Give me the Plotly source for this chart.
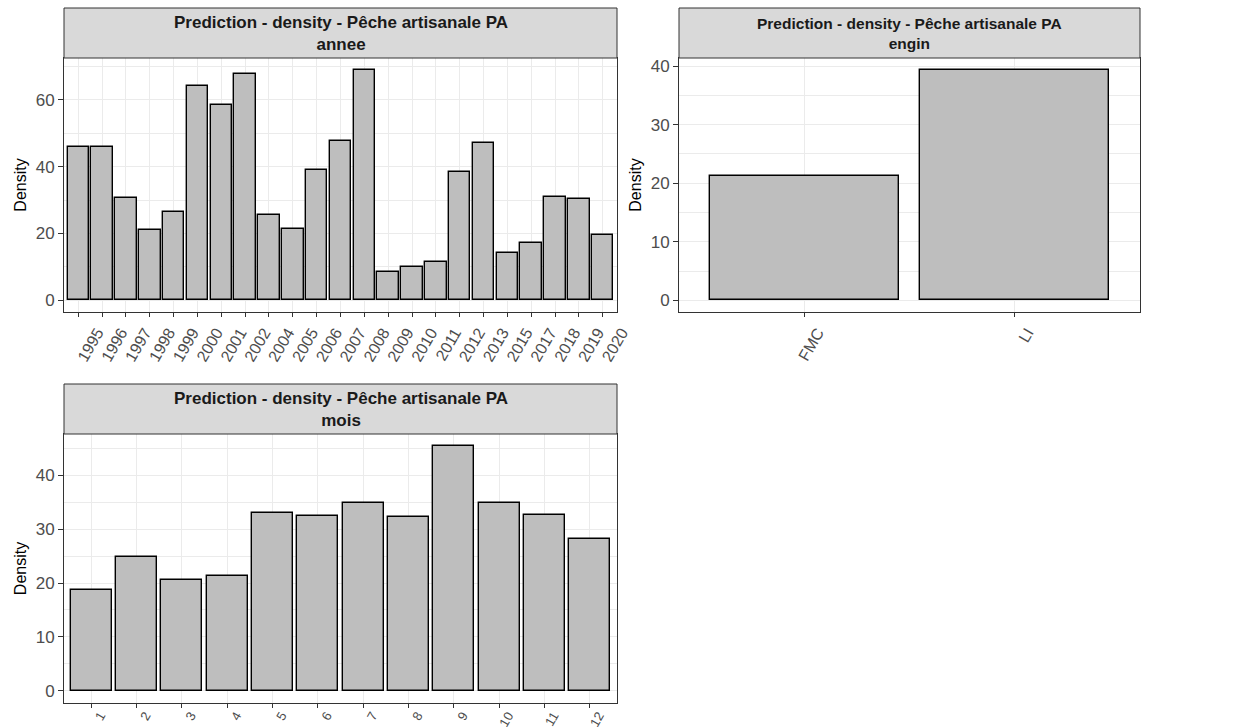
import plotly.graph_objects as go

# --- data ---
annee = ["1995", "1996", "1997", "1998", "1999", "2000", "2001", "2002", "2004", "2005",
         "2006", "2007", "2008", "2009", "2010", "2011", "2012", "2013", "2015", "2017",
         "2018", "2019", "2020"]
annee_density = [46.0, 46.0, 30.7, 21.2, 26.4, 64.2, 58.5, 67.7, 25.5, 21.5,
                 38.9, 47.7, 69.0, 8.5, 9.9, 11.5, 38.5, 47.2, 14.2, 17.2,
                 31.0, 30.3, 19.7]

engin = ["FMC", "LI"]
engin_density = [21.3, 39.4]

mois = ["1", "2", "3", "4", "5", "6", "7", "8", "9", "10", "11", "12"]
mois_density = [18.7, 24.9, 20.5, 21.3, 33.0, 32.5, 34.8, 32.2, 45.4, 34.8, 32.7, 28.1]

strip_title = "Prediction - density - Pêche artisanale PA"

W, H = 1247, 727
FONT = "Liberation Sans, Arial, sans-serif"

# panel boxes in pixels: (x0, x1, strip_top, panel_top, panel_bottom),
# y dtick, strip font size, x tick label shift, x tick font size
panels = [
    ("annee", annee, annee_density, (64, 617, 8, 58, 312), 20, 17, 19, 16),
    ("engin", engin, engin_density, (679, 1140, 8, 58, 312), 10, 15.5, 13, 16),
    ("mois", mois, mois_density, (64, 617, 384, 434, 703), 10, 17, 9, 13),
]

fig = go.Figure()
shapes = []
annotations = []

for i, (name, cats, vals, box, dtick, sfont, shift, xfont) in enumerate(panels, start=1):
    x0, x1, s0, p0, p1 = box
    sfx = "" if i == 1 else str(i)
    fig.add_trace(go.Bar(
        x=cats, y=vals, width=0.9,
        marker=dict(color="#BEBEBE", line=dict(color="black", width=1.4)),
        xaxis="x" + sfx, yaxis="y" + sfx, showlegend=False,
    ))
    ymax = max(vals)
    fig.layout["xaxis" + sfx] = dict(
        domain=[x0 / W, x1 / W], anchor="y" + sfx, type="category",
        range=[-0.6, len(cats) - 0.4], tickangle=-60, automargin=False,
        ticks="outside", ticklen=4, tickcolor="#333333", tickwidth=1,
        ticklabelshift=shift, ticklabelstandoff=-5 if name == "mois" else 0,
        tickfont=dict(family=FONT, size=xfont, color="#4D4D4D"),
        showgrid=True, gridcolor="#EBEBEB", gridwidth=1,
        showline=True, mirror=True, linecolor="#333333", linewidth=1,
        zeroline=False, fixedrange=True,
    )
    fig.layout["yaxis" + sfx] = dict(
        domain=[1 - p1 / H, 1 - p0 / H], anchor="x" + sfx, automargin=False,
        range=[-0.05 * ymax, 1.05 * ymax], dtick=dtick,
        ticks="outside", ticklen=5, tickcolor="#333333", tickwidth=1,
        tickfont=dict(family=FONT, size=17, color="#4D4D4D"),
        showgrid=True, gridcolor="#EBEBEB", gridwidth=1,
        minor=dict(dtick=dtick / 2, showgrid=True, gridcolor="#EBEBEB", gridwidth=0.6),
        showline=True, mirror=True, linecolor="#333333", linewidth=1,
        zeroline=False, fixedrange=True,
        title=dict(text="Density", font=dict(family=FONT, size=16, color="black"), standoff=5),
    )
    # facet strip
    shapes.append(dict(type="rect", xref="paper", yref="paper",
                       x0=x0 / W, x1=x1 / W, y0=1 - p0 / H, y1=1 - s0 / H,
                       fillcolor="#D9D9D9", line=dict(color="#333333", width=1), layer="above"))
    annotations.append(dict(xref="paper", yref="paper",
                            x=(x0 + x1) / 2 / W, y=1 - (s0 + p0) / 2 / H,
                            text=f"<b>{strip_title}</b><br><b>{name}</b>",
                            showarrow=False, xanchor="center", yanchor="middle",
                            font=dict(family=FONT, size=sfont, color="#1A1A1A")))

fig.update_layout(
    width=W, height=H,
    margin=dict(l=0, r=0, t=0, b=0, autoexpand=False),
    paper_bgcolor="white", plot_bgcolor="white",
    font=dict(family=FONT),
    shapes=shapes, annotations=annotations,
    bargap=0,
)

# drop the browser's default 8px body margin so the figure sits at the page corner
fig.write_html("out.html", config={"displayModeBar": False},
               post_script="document.body.style.margin='0';")
